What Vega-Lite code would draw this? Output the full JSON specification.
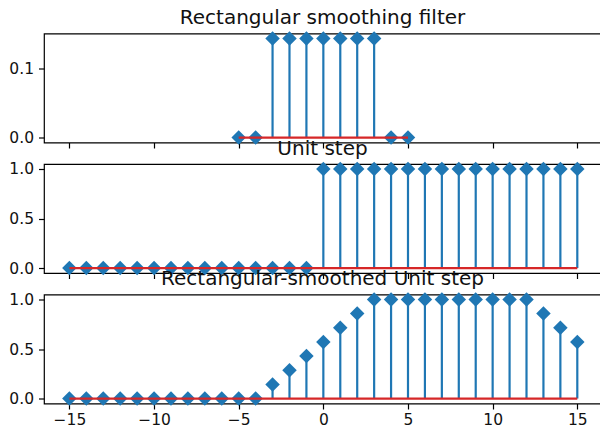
{
  "$schema": "https://vega.github.io/schema/vega-lite/v6.json",
  "padding": {"left": 8, "top": 7.5, "right": 0, "bottom": 0},
  "autosize": {"type": "pad"},
  "background": "white",
  "datasets": {
    "filter": [
      {"n": -5, "value": 0}, {"n": -4, "value": 0},
      {"n": -3, "value": 0.142857}, {"n": -2, "value": 0.142857}, {"n": -1, "value": 0.142857},
      {"n": 0, "value": 0.142857}, {"n": 1, "value": 0.142857}, {"n": 2, "value": 0.142857},
      {"n": 3, "value": 0.142857}, {"n": 4, "value": 0}, {"n": 5, "value": 0}
    ],
    "step": [
      {"n": -15, "value": 0}, {"n": -14, "value": 0}, {"n": -13, "value": 0}, {"n": -12, "value": 0},
      {"n": -11, "value": 0}, {"n": -10, "value": 0}, {"n": -9, "value": 0}, {"n": -8, "value": 0},
      {"n": -7, "value": 0}, {"n": -6, "value": 0}, {"n": -5, "value": 0}, {"n": -4, "value": 0},
      {"n": -3, "value": 0}, {"n": -2, "value": 0}, {"n": -1, "value": 0}, {"n": 0, "value": 1},
      {"n": 1, "value": 1}, {"n": 2, "value": 1}, {"n": 3, "value": 1}, {"n": 4, "value": 1},
      {"n": 5, "value": 1}, {"n": 6, "value": 1}, {"n": 7, "value": 1}, {"n": 8, "value": 1},
      {"n": 9, "value": 1}, {"n": 10, "value": 1}, {"n": 11, "value": 1}, {"n": 12, "value": 1},
      {"n": 13, "value": 1}, {"n": 14, "value": 1}, {"n": 15, "value": 1}
    ],
    "smoothed": [
      {"n": -15, "value": 0}, {"n": -14, "value": 0}, {"n": -13, "value": 0}, {"n": -12, "value": 0},
      {"n": -11, "value": 0}, {"n": -10, "value": 0}, {"n": -9, "value": 0}, {"n": -8, "value": 0},
      {"n": -7, "value": 0}, {"n": -6, "value": 0}, {"n": -5, "value": 0}, {"n": -4, "value": 0},
      {"n": -3, "value": 0.142857}, {"n": -2, "value": 0.285714}, {"n": -1, "value": 0.428571},
      {"n": 0, "value": 0.571429}, {"n": 1, "value": 0.714286}, {"n": 2, "value": 0.857143},
      {"n": 3, "value": 1}, {"n": 4, "value": 1}, {"n": 5, "value": 1}, {"n": 6, "value": 1},
      {"n": 7, "value": 1}, {"n": 8, "value": 1}, {"n": 9, "value": 1}, {"n": 10, "value": 1},
      {"n": 11, "value": 1}, {"n": 12, "value": 1}, {"n": 13, "value": 0.857143},
      {"n": 14, "value": 0.714286}, {"n": 15, "value": 0.571429}
    ]
  },
  "config": {
    "font": "DejaVu Sans",
    "view": {"stroke": "black", "strokeWidth": 1.2},
    "axis": {
      "grid": false, "domain": false, "tickColor": "black", "tickSize": 5.5, "tickWidth": 1.2,
      "labelFontSize": 15.5, "labelColor": "#111111", "labelFont": "DejaVu Sans", "labelPadding": 5, "title": null
    },
    "axisX": {"labelPadding": 3},
    "title": {"fontSize": 20, "fontWeight": "normal", "font": "DejaVu Sans", "color": "#111111", "offset": 3, "baseline": "alphabetic"}
  },
  "bounds": "flush",
  "spacing": 21.5,
  "vconcat": [
    {
      "title": "Rectangular smoothing filter",
      "width": 557, "height": 109,
      "data": {"name": "filter"},
      "encoding": {
        "x": {"field": "n", "type": "quantitative", "scale": {"domain": [-16.5, 16.4], "nice": false, "zero": false},
              "axis": {"values": [-15, -10, -5, 0, 5, 10, 15], "labels": false}}
      },
      "layer": [
        {"mark": {"type": "rule", "color": "#1f77b4", "strokeWidth": 2.2},
         "encoding": {"y": {"field": "value", "type": "quantitative", "scale": {"domain": [-0.00714, 0.15], "nice": false, "zero": false},
                            "axis": {"values": [0, 0.1], "format": ".1f"}},
                      "y2": {"datum": 0}}},
        {"mark": {"type": "point", "shape": "diamond", "filled": true, "size": 210, "color": "#1f77b4", "opacity": 1},
         "encoding": {"y": {"field": "value", "type": "quantitative"}}},
        {"mark": {"type": "line", "color": "#d62728", "strokeWidth": 2.2},
         "encoding": {"y": {"datum": 0}}}
      ]
    },
    {
      "title": "Unit step",
      "width": 557, "height": 109,
      "data": {"name": "step"},
      "encoding": {
        "x": {"field": "n", "type": "quantitative", "scale": {"domain": [-16.5, 16.4], "nice": false, "zero": false},
              "axis": {"values": [-15, -10, -5, 0, 5, 10, 15], "labels": false}}
      },
      "layer": [
        {"mark": {"type": "rule", "color": "#1f77b4", "strokeWidth": 2.2},
         "encoding": {"y": {"field": "value", "type": "quantitative", "scale": {"domain": [-0.05, 1.05], "nice": false, "zero": false},
                            "axis": {"values": [0, 0.5, 1], "format": ".1f"}},
                      "y2": {"datum": 0}}},
        {"mark": {"type": "point", "shape": "diamond", "filled": true, "size": 210, "color": "#1f77b4", "opacity": 1},
         "encoding": {"y": {"field": "value", "type": "quantitative"}}},
        {"mark": {"type": "line", "color": "#d62728", "strokeWidth": 2.2},
         "encoding": {"y": {"datum": 0}}}
      ]
    },
    {
      "title": "Rectangular-smoothed Unit step",
      "width": 557, "height": 109,
      "data": {"name": "smoothed"},
      "encoding": {
        "x": {"field": "n", "type": "quantitative", "scale": {"domain": [-16.5, 16.4], "nice": false, "zero": false},
              "axis": {"values": [-15, -10, -5, 0, 5, 10, 15]}}
      },
      "layer": [
        {"mark": {"type": "rule", "color": "#1f77b4", "strokeWidth": 2.2},
         "encoding": {"y": {"field": "value", "type": "quantitative", "scale": {"domain": [-0.05, 1.05], "nice": false, "zero": false},
                            "axis": {"values": [0, 0.5, 1], "format": ".1f"}},
                      "y2": {"datum": 0}}},
        {"mark": {"type": "point", "shape": "diamond", "filled": true, "size": 210, "color": "#1f77b4", "opacity": 1},
         "encoding": {"y": {"field": "value", "type": "quantitative"}}},
        {"mark": {"type": "line", "color": "#d62728", "strokeWidth": 2.2},
         "encoding": {"y": {"datum": 0}}}
      ]
    }
  ]
}
